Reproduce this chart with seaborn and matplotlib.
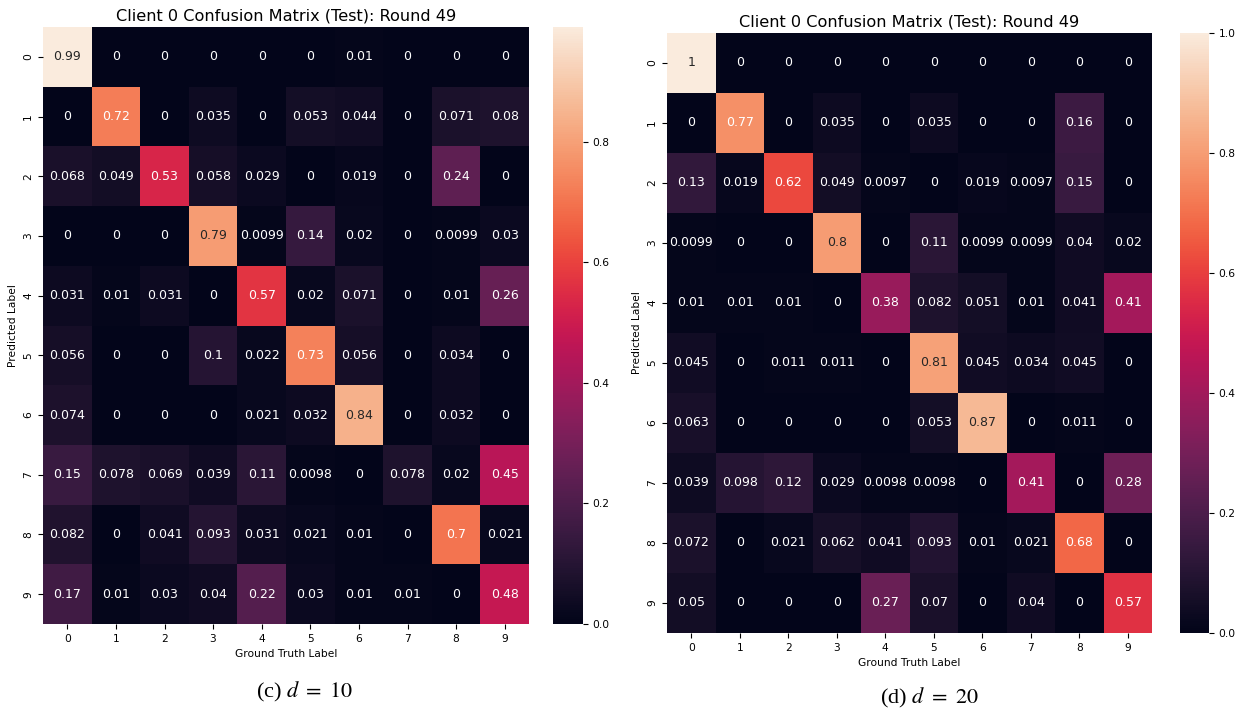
import numpy as np
import matplotlib
matplotlib.use("Agg")
import matplotlib.pyplot as plt
import seaborn as sns

labels = [str(i) for i in range(10)]

# rows = predicted label, columns = ground truth label
cm_d10 = [
    [0.99, 0, 0, 0, 0, 0, 0.01, 0, 0, 0],
    [0, 0.72, 0, 0.035, 0, 0.053, 0.044, 0, 0.071, 0.08],
    [0.068, 0.049, 0.53, 0.058, 0.029, 0, 0.019, 0, 0.24, 0],
    [0, 0, 0, 0.79, 0.0099, 0.14, 0.02, 0, 0.0099, 0.03],
    [0.031, 0.01, 0.031, 0, 0.57, 0.02, 0.071, 0, 0.01, 0.26],
    [0.056, 0, 0, 0.1, 0.022, 0.73, 0.056, 0, 0.034, 0],
    [0.074, 0, 0, 0, 0.021, 0.032, 0.84, 0, 0.032, 0],
    [0.15, 0.078, 0.069, 0.039, 0.11, 0.0098, 0, 0.078, 0.02, 0.45],
    [0.082, 0, 0.041, 0.093, 0.031, 0.021, 0.01, 0, 0.7, 0.021],
    [0.17, 0.01, 0.03, 0.04, 0.22, 0.03, 0.01, 0.01, 0, 0.48],
]

cm_d20 = [
    [1, 0, 0, 0, 0, 0, 0, 0, 0, 0],
    [0, 0.77, 0, 0.035, 0, 0.035, 0, 0, 0.16, 0],
    [0.13, 0.019, 0.62, 0.049, 0.0097, 0, 0.019, 0.0097, 0.15, 0],
    [0.0099, 0, 0, 0.8, 0, 0.11, 0.0099, 0.0099, 0.04, 0.02],
    [0.01, 0.01, 0.01, 0, 0.38, 0.082, 0.051, 0.01, 0.041, 0.41],
    [0.045, 0, 0.011, 0.011, 0, 0.81, 0.045, 0.034, 0.045, 0],
    [0.063, 0, 0, 0, 0, 0.053, 0.87, 0, 0.011, 0],
    [0.039, 0.098, 0.12, 0.029, 0.0098, 0.0098, 0, 0.41, 0, 0.28],
    [0.072, 0, 0.021, 0.062, 0.041, 0.093, 0.01, 0.021, 0.68, 0],
    [0.05, 0, 0, 0, 0.27, 0.07, 0, 0.04, 0, 0.57],
]

title = "Client 0 Confusion Matrix (Test): Round 49"
captions = [r"(c) $d\ =\ 10$", r"(d) $d\ =\ 20$"]

W, H = 1244, 711
fig = plt.figure(figsize=(W / 100, H / 100), dpi=100)
plt.rcParams["mathtext.fontset"] = "stix"


def ax_px(x0, y0, x1, y1):
    return fig.add_axes([x0 / W, 1 - y1 / H, (x1 - x0) / W, (y1 - y0) / H])


panels = [
    (cm_d10, (43, 27, 529, 624), (553, 27, 583, 624), captions[0], (305, 692)),
    (cm_d20, (667, 33, 1152, 633), (1180, 33, 1209, 633), captions[1], (929, 698)),
]

for data, hbox, cbox, cap, cpos in panels:
    ax = ax_px(*hbox)
    cax = ax_px(*cbox)
    df = np.array(data)
    sns.heatmap(df, annot=True, cmap="rocket", vmin=0, ax=ax, cbar_ax=cax,
                xticklabels=labels, yticklabels=labels,
                annot_kws={"fontsize": 9})
    ax.set_title(title, fontsize=11.6, pad=5)
    ax.set_xlabel("Ground Truth Label", fontsize=7.7)
    ax.set_ylabel("Predicted Label", fontsize=7.7)
    ax.tick_params(labelsize=7.7)
    cax.tick_params(labelsize=7.7)
    fig.text(cpos[0] / W, 1 - cpos[1] / H, cap, ha="center", va="center",
             fontsize=16, family="Liberation Serif")

fig.savefig("out.png", dpi=100)
